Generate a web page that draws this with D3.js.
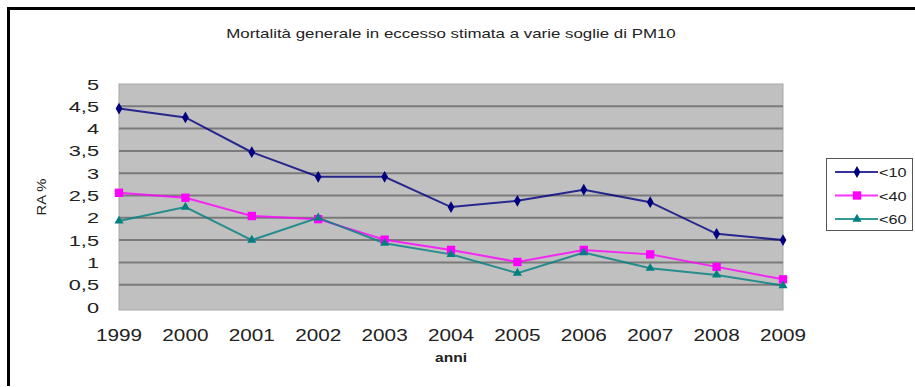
<!DOCTYPE html>
<html>
<head>
<meta charset="utf-8">
<script src="https://cdn.jsdelivr.net/npm/d3@7"></script>
<style>
  html, body { margin: 0; padding: 0; background: #fff; }
  svg { display: block; font-family: "Liberation Sans", Arial, sans-serif; }
</style>
</head>
<body>
<svg id="chart" width="915" height="387"></svg>
<script>
// Years on the x axis
const years = ["1999","2000","2001","2002","2003","2004","2005","2006","2007","2008","2009"];
// RA % by PM10 threshold
const lt10 = [4.45, 4.25, 3.47, 2.92, 2.92, 2.24, 2.38, 2.63, 2.35, 1.64, 1.50];
const lt40 = [2.56, 2.45, 2.04, 1.97, 1.51, 1.28, 1.01, 1.28, 1.18, 0.90, 0.62];
const lt60 = [1.93, 2.24, 1.50, 2.00, 1.43, 1.18, 0.76, 1.22, 0.87, 0.72, 0.48];
const yTicks = [0, 0.5, 1, 1.5, 2, 2.5, 3, 3.5, 4, 4.5, 5];
const seriesNames = ["<10", "<40", "<60"];

const series = [
  { name: seriesNames[0], values: lt10, color: "#000080", shape: d3.symbolDiamond, size: 40 },
  { name: seriesNames[1], values: lt40, color: "#ff00ff", shape: d3.symbolSquare, size: 70 },
  { name: seriesNames[2], values: lt60, color: "#008080", shape: d3.symbolTriangle, size: 36 }
];

const svg = d3.select("#chart");
const plot = { left: 119, right: 783, top: 84, bottom: 307 };

const x = d3.scalePoint().domain(years).range([plot.left, plot.right]);
const y = d3.scaleLinear().domain([0, 5]).range([plot.bottom, plot.top]);

// Text is drawn slightly wide, as in the source layout
function wideText(sel, sx) {
  return sel.attr("transform", function () {
    const tx = +this.getAttribute("data-x"), ty = +this.getAttribute("data-y");
    return `translate(${tx},${ty}) scale(${sx},1)`;
  });
}

// Frame (top and left edges)
svg.append("path")
  .attr("d", "M8.5,386 L8.5,8.5 L915,8.5")
  .attr("fill", "none").attr("stroke", "#000").attr("stroke-width", 3);

// Title
svg.append("text")
  .attr("data-x", 451).attr("data-y", 38)
  .attr("text-anchor", "middle")
  .attr("font-size", 13).attr("fill", "#222")
  .text("Mortalità generale in eccesso stimata a varie soglie di PM10")
  .call(wideText, 1.3);

// Plot area background
svg.append("rect")
  .attr("x", plot.left).attr("y", plot.top)
  .attr("width", plot.right - plot.left).attr("height", plot.bottom - plot.top + 3)
  .attr("fill", "#c0c0c0").attr("stroke", "#a8a8a8").attr("stroke-width", 1);

// Horizontal gridlines
svg.append("g")
  .selectAll("line")
  .data(yTicks.filter(v => v > 0 && v < 5))
  .join("line")
  .attr("x1", plot.left).attr("x2", plot.right)
  .attr("y1", d => y(d)).attr("y2", d => y(d))
  .attr("stroke", "#7a7a7a").attr("stroke-width", 2);

// Y axis labels
const fmt = d => String(d).replace(".", ",");
svg.append("g")
  .selectAll("text")
  .data(yTicks)
  .join("text")
  .attr("data-x", 99).attr("data-y", d => y(d) + 5.5)
  .attr("text-anchor", "end")
  .attr("font-size", 15).attr("fill", "#222")
  .text(fmt)
  .call(wideText, 1.45);

// X axis labels
svg.append("g")
  .selectAll("text")
  .data(years)
  .join("text")
  .attr("data-x", d => x(d)).attr("data-y", 341)
  .attr("text-anchor", "middle")
  .attr("font-size", 17).attr("fill", "#222")
  .text(d => d)
  .call(wideText, 1.22);

// Axis titles
svg.append("text")
  .attr("data-x", 451).attr("data-y", 362)
  .attr("text-anchor", "middle")
  .attr("font-size", 13).attr("font-weight", "bold").attr("fill", "#222")
  .text("anni")
  .call(wideText, 1.2);

svg.append("text")
  .attr("transform", "translate(46,197) rotate(-90)")
  .attr("text-anchor", "middle")
  .attr("font-size", 12).attr("fill", "#222")
  .attr("textLength", 37).attr("lengthAdjust", "spacingAndGlyphs")
  .text("RA %");

// Series lines and markers
const line = d3.line().x((d, i) => x(years[i])).y(d => y(d));
const g = svg.append("g");
series.forEach(s => {
  g.append("path")
    .datum(s.values)
    .attr("d", line)
    .attr("fill", "none")
    .attr("stroke", s.color).attr("stroke-width", 2).attr("stroke-opacity", 0.8);
});
series.forEach(s => {
  g.append("g")
    .selectAll("path")
    .data(s.values)
    .join("path")
    .attr("transform", (d, i) => `translate(${x(years[i])},${y(d)})`)
    .attr("d", d3.symbol().type(s.shape).size(s.size))
    .attr("fill", s.color);
});

// Legend
const legend = svg.append("g");
legend.append("rect")
  .attr("x", 826.5).attr("y", 158.5).attr("width", 86).attr("height", 72)
  .attr("fill", "#fff").attr("stroke", "#555").attr("stroke-width", 1);
series.forEach((s, i) => {
  const ly = 172 + i * 23.5;
  legend.append("line")
    .attr("x1", 835).attr("x2", 878).attr("y1", ly).attr("y2", ly)
    .attr("stroke", s.color).attr("stroke-width", 2).attr("stroke-opacity", 0.8);
  legend.append("path")
    .attr("transform", `translate(857,${ly})`)
    .attr("d", d3.symbol().type(s.shape).size(s.size))
    .attr("fill", s.color);
  legend.append("text")
    .attr("data-x", 879).attr("data-y", ly + 5)
    .attr("font-size", 12.5).attr("fill", "#222")
    .text(s.name)
    .call(wideText, 1.3);
});
</script>
</body>
</html>
